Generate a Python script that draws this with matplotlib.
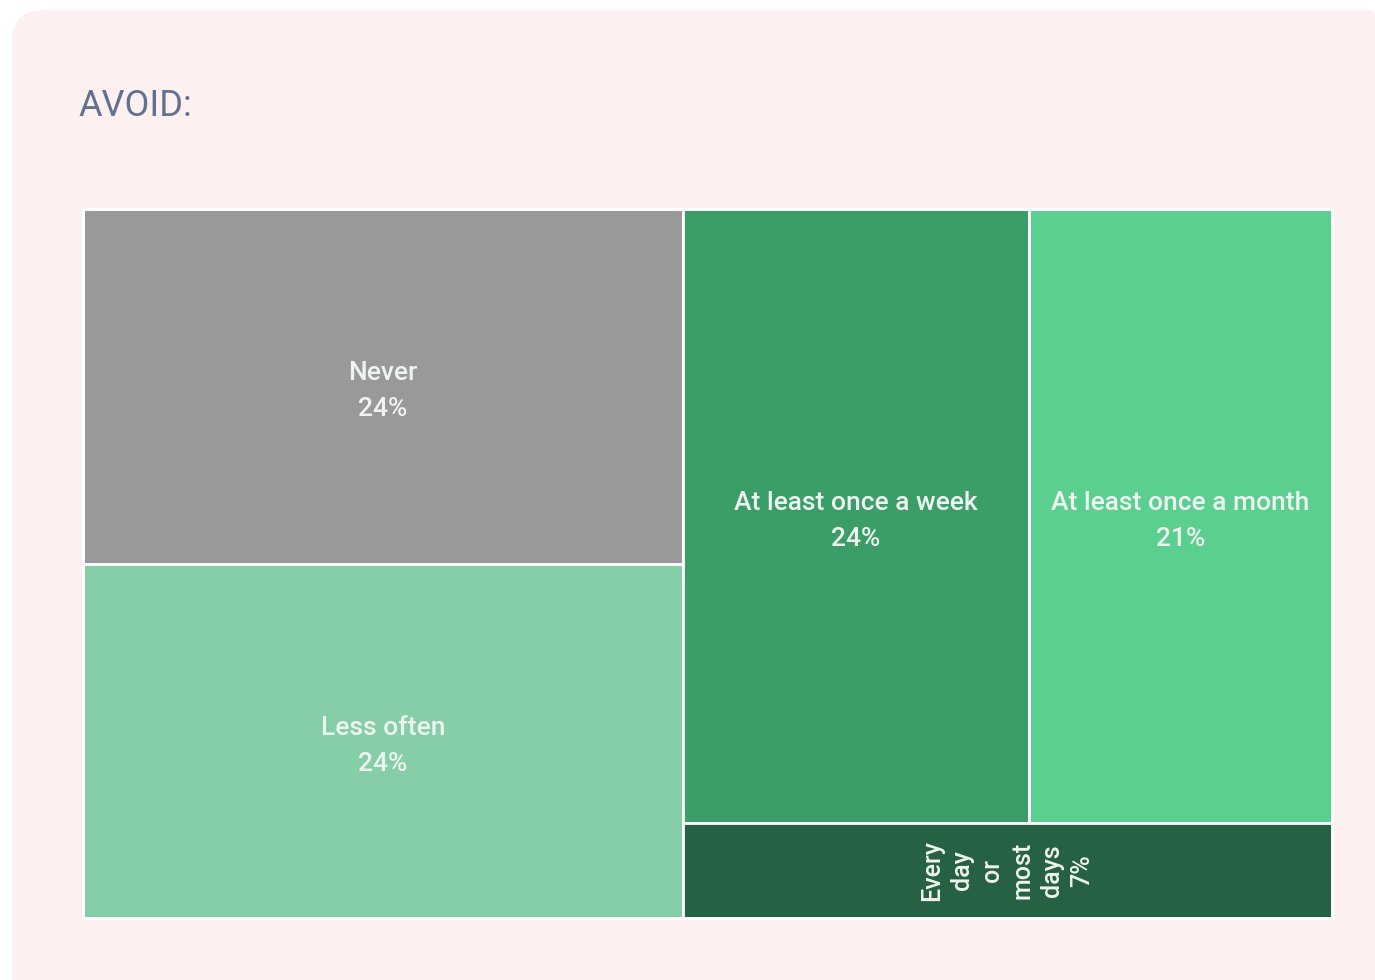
import matplotlib
matplotlib.use("Agg")
import matplotlib.pyplot as plt
from matplotlib.patches import FancyBboxPatch, Rectangle

# ---- data ----
labels = ["Never", "Less often", "At least once a week", "At least once a month", "Every day or most days"]
values = [24, 24, 24, 21, 7]
colors = ["#999999", "#85cea8", "#3b9e68", "#5bcf90", "#276143"]
title = "AVOID:"
# treemap grouping (indices into the lists above)
tree = ("h", [("v", [0, 1]), ("v", [("h", [2, 3]), 4])])

W, H = 1375, 980
fig = plt.figure(figsize=(W / 100, H / 100), dpi=100)
fig.patch.set_facecolor("white")

bg = fig.add_axes([0, 0, 1, 1])
bg.set_xlim(0, W)
bg.set_ylim(H, 0)
bg.axis("off")
card = FancyBboxPatch((12, 10), 1380, 1000, boxstyle="round,pad=0,rounding_size=32",
                      facecolor="#fcf0f0", edgecolor="none")
bg.add_patch(card)
bg.text(78, 106, title, fontsize=26, color="#62718f", family="Roboto",
        va="center", ha="left")

# treemap axes
L, T, PW, PH = 83, 209, 1249, 709
ax = fig.add_axes([L / W, 1 - (T + PH) / H, PW / W, PH / H])
ax.set_xlim(0, 1)
ax.set_ylim(1, 0)
ax.axis("off")


def total(node):
    if isinstance(node, int):
        return values[node]
    return sum(total(c) for c in node[1])


rects = {}


def layout(node, x, y, w, h):
    if isinstance(node, int):
        rects[node] = (x, y, w, h)
        return
    d, children = node
    t = total(node)
    off = 0.0
    for c in children:
        f = total(c) / t
        if d == "h":
            layout(c, x + off * w, y, f * w, h)
        else:
            layout(c, x, y + off * h, w, f * h)
        off += f


layout(tree, 0, 0, 1, 1)

outer = Rectangle((0, 0), 1, 1, facecolor="none", edgecolor="white", linewidth=2,
                  clip_on=False, zorder=3)
ax.add_patch(outer)

for i, (x, y, w, h) in rects.items():
    ax.add_patch(Rectangle((x, y), w, h, facecolor=colors[i], edgecolor="white",
                           linewidth=2, zorder=2))
    cx, cy = x + w / 2, y + h / 2
    if h * PH < 150:
        txt = "\n".join(labels[i].split()) + f"\n{values[i]}%"
        ax.text(cx, cy, txt, rotation=90, ha="center", va="center",
                multialignment="center", fontsize=18,
                color="#eef5f0", family="Roboto", fontweight="medium",
                linespacing=1.32, zorder=4)
    else:
        ax.text(cx, cy + 0.007, f"{labels[i]}\n{values[i]}%", ha="center", va="center",
                multialignment="center",
                fontsize=19, color="#eef5f0", family="Roboto", fontweight="medium",
                linespacing=1.62, zorder=4)

fig.savefig("out.png", dpi=100, facecolor="white")
